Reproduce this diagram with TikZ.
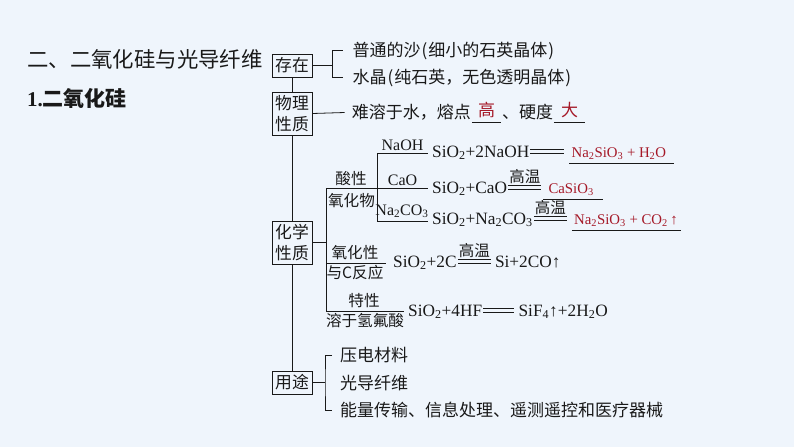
\documentclass[tikz,border=0pt]{standalone}
\usepackage{fontspec}
\setmainfont{Liberation Serif}
\newfontfamily\cjk{Noto Sans CJK SC}
\definecolor{bg}{RGB}{239,245,252}
\definecolor{ink}{RGB}{25,25,25}
\definecolor{ansred}{RGB}{165,25,40}
\newcommand\lpar{\kern1pt(\kern1pt}
\newcommand\rpar{\kern1pt)}
\begin{document}
\begin{tikzpicture}[x=1pt,y=-1pt,
  ln/.style={draw=ink, line width=0.8pt},
  dbl/.style={draw=ink, line width=1pt, double=bg, double distance=2.2pt},
  box/.style={draw=ink, line width=0.8pt, inner sep=0pt, minimum width=40pt, minimum height=23pt,
    font=\cjk\fontsize{16.8}{20.5}\selectfont, align=center, text=ink},
  zh/.style={font=\cjk\fontsize{17}{20}\selectfont, inner sep=0pt, anchor=west, text=ink},
  lab/.style={font=\cjk\fontsize{15.6}{18}\selectfont, inner sep=0pt, text=ink},
  rg/.style={font=\fontsize{16}{18}\selectfont, inner sep=0pt, anchor=base, text=ink},
  fm/.style={font=\fontsize{17.3}{20}\selectfont, inner sep=0pt, anchor=base west, text=ink},
  ans/.style={font=\fontsize{14.8}{18}\selectfont, inner sep=0pt, anchor=base west, text=ansred},
  tmp/.style={font=\cjk\fontsize{15.5}{18}\selectfont, inner sep=0pt, anchor=south, text=ink},
  redzh/.style={font=\cjk\fontsize{17}{20}\selectfont, inner sep=0pt, text=ansred}
]
\fill[bg] (0,0) rectangle (794,447);
\useasboundingbox (0,0) rectangle (794,447);

% titles
\node[anchor=west, inner sep=0pt, font=\cjk\fontsize{21.4}{24}\selectfont, text=ink] (title) at (27,59.5) {二、二氧化硅与光导纤维};
\node[anchor=west, inner sep=0pt, font=\fontsize{21}{24}\selectfont\bfseries, text=ink] (sub) at (27,98.5) {1.{\cjk\bfseries 二氧化硅}};

% main boxes
\node[box] (cz) at (292,65.5) {存在};
\node[box, minimum height=43pt] (wl) at (292,113.5) {物理\\性质};
\node[box, minimum height=43pt] (hx) at (292,242.5) {化学\\性质};
\node[box] (yt) at (292,382.5) {用途};
\draw[ln] (cz) -- (wl);
\draw[ln] (wl) -- (hx);
\draw[ln] (hx) -- (yt);

% 存在
\node[zh] (e1) at (352.5,50.5) {普通的沙\lpar 细小的石英晶体\rpar};
\node[zh] (e2) at (352.5,77.5) {水晶\lpar 纯石英，无色透明晶体\rpar};
\coordinate (b1) at (332.5,65.5);
\draw[ln] (cz.east) -- (b1);
\draw[ln] ([xshift=-10pt]e1.west) -| (b1) |- ([xshift=-10pt]e2.west);

% 物理性质
\node[zh] (p1) at (351.7,112.5) {难溶于水，熔点};
\node[redzh, minimum width=29pt, text height=12pt, text depth=4.5pt] (g) at (486.5,112.5) {高};
\node[zh] (p2) at (502,112.5) {、硬度};
\node[redzh, minimum width=31pt, text height=12pt, text depth=4.5pt] (d) at (569.5,112.5) {大};
\draw[ln] (wl.east) -- ([xshift=-7pt]p1.west);
\draw[ln] ([yshift=-1.5pt]g.south west) -- ([yshift=-1.5pt]g.south east);
\draw[ln] ([yshift=-1.5pt]d.south west) -- ([yshift=-1.5pt]d.south east);

% 化学性质 tree
\coordinate (ht) at (326,188);
\coordinate (hb) at (326,311);
\coordinate (hm) at (326,242.5);
\coordinate (st) at (377,153);
\coordinate (sb) at (377,221);
\coordinate (a1) at (428,153);
\coordinate (a2) at (428,188);
\coordinate (a3) at (428,221);
\coordinate (o1) at (386,263);
\coordinate (o2) at (326,263);
\coordinate (f1) at (404,311);
\draw[ln] (hx.east) -- (hm);
\draw[ln] (ht) -- (hb);
\draw[ln] (ht) -- (a2);
\draw[ln] (st) -- (sb);
\draw[ln] (st) -- (a1);
\draw[ln] (sb) -- (a3);
\draw[ln] (o2) -- (o1);
\draw[ln] (hb) -- (f1);

\node[lab] (sx) at (351,179) {酸性};
\node[lab] (yhw) at (351.5,200.5) {氧化物};
\node[rg] (n1) at (402.5,150) {NaOH};
\node[rg] (n2) at (402.5,185) {CaO};
\node[rg] (n3) at (402,215) {Na\textsubscript{2}CO\textsubscript{3}};

\node[lab] (yhx) at (355,252.5) {氧化性};
\node[lab] (ycf) at (355,272.5) {与C反应};
\node[lab] (tx) at (364,301) {特性};
\node[lab] (rhf) at (365,321) {溶于氢氟酸};

% equations row 1
\node[fm] (l1) at (432,157) {SiO\textsubscript{2}+2NaOH};
\draw[dbl] ([shift={(1,-5.5)}]l1.base east) -- ([shift={(35,-5.5)}]l1.base east) coordinate (q1);
\node[ans] (r1) at ([shift={(7,0)}]l1.base east -| q1) {Na\textsubscript{2}SiO\textsubscript{3} + H\textsubscript{2}O};
\draw[ln] ([shift={(-2,6.5)}]r1.base west) -- ([shift={(8,6.5)}]r1.base east);

% row 2
\node[fm] (l2) at (432,193) {SiO\textsubscript{2}+CaO};
\draw[dbl] ([shift={(1,-5.5)}]l2.base east) -- ([shift={(34,-5.5)}]l2.base east) coordinate (q2);
\node[tmp] (w2) at ([shift={(17.5,-9)}]l2.base east) {高温};
\node[ans] (r2) at ([shift={(7,0)}]l2.base east -| q2) {CaSiO\textsubscript{3}};
\draw[ln] ([shift={(-5,6.5)}]r2.base west) -- ([shift={(9,6.5)}]r2.base east);

% row 3
\node[fm] (l3) at (432,224) {SiO\textsubscript{2}+Na\textsubscript{2}CO\textsubscript{3}};
\draw[dbl] ([shift={(1,-5.5)}]l3.base east) -- ([shift={(34,-5.5)}]l3.base east) coordinate (q3);
\node[tmp] (w3) at ([shift={(17.5,-9)}]l3.base east) {高温};
\node[ans] (r3) at ([shift={(7,0)}]l3.base east -| q3) {Na\textsubscript{2}SiO\textsubscript{3} + CO\textsubscript{2}\,↑};
\draw[ln] ([shift={(-2,6.5)}]r3.base west) -- ([shift={(3,6.5)}]r3.base east);

% row 4 (C)
\node[fm] (l4) at (393,267) {SiO\textsubscript{2}+2C};
\draw[dbl] ([shift={(1,-5.5)}]l4.base east) -- ([shift={(34,-5.5)}]l4.base east) coordinate (q4);
\node[tmp] (w4) at ([shift={(17.5,-9)}]l4.base east) {高温};
\node[fm] (r4) at ([shift={(4,0)}]l4.base east -| q4) {Si+2CO↑};

% row 5 (HF)
\node[fm] (l5) at (408,316) {SiO\textsubscript{2}+4HF};
\draw[dbl] ([shift={(1,-5.5)}]l5.base east) -- ([shift={(32,-5.5)}]l5.base east) coordinate (q5);
\node[fm] (r5) at ([shift={(4,0)}]l5.base east -| q5) {SiF\textsubscript{4}↑+2H\textsubscript{2}O};

% 用途
\node[zh] (u1) at (340,355) {压电材料};
\node[zh] (u2) at (340,383) {光导纤维};
\node[zh] (u3) at (340,410) {能量传输、信息处理、遥测遥控和医疗器械};
\coordinate (ub) at (325,382.5);
\draw[ln] (yt.east) -- (ub);
\draw[ln] ([xshift=-8pt]u1.west) -| (ub) |- ([xshift=-8pt]u3.west);
\end{tikzpicture}
\end{document}
